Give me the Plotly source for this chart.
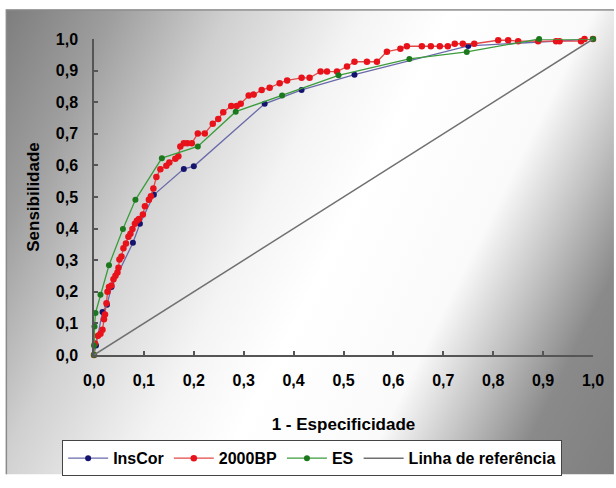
import base64
import plotly.graph_objects as go

# ---------------- data ----------------
inscor_x = [0, 0.004, 0.017, 0.026, 0.035, 0.078, 0.092, 0.12, 0.18, 0.2, 0.342, 0.416, 0.522, 0.75, 1.0]
inscor_y = [0, 0.03, 0.136, 0.159, 0.215, 0.355, 0.415, 0.507, 0.589, 0.597, 0.795, 0.839, 0.887, 0.978, 1.0]

bp_x = [0, 0.002, 0.008, 0.013, 0.017, 0.02, 0.022, 0.025, 0.027, 0.03, 0.035, 0.039, 0.043, 0.047,
        0.049, 0.051, 0.055, 0.059, 0.064, 0.069, 0.073, 0.077, 0.082, 0.086, 0.09, 0.098, 0.102, 0.11,
        0.114, 0.119, 0.125, 0.133, 0.145, 0.151, 0.163, 0.169, 0.173, 0.18, 0.187, 0.196, 0.208, 0.222,
        0.238, 0.249, 0.259, 0.275, 0.286, 0.294, 0.31, 0.32, 0.336, 0.352, 0.372, 0.387, 0.416, 0.432,
        0.454, 0.467, 0.487, 0.507, 0.522, 0.547, 0.567, 0.587, 0.614, 0.627, 0.657, 0.675, 0.693, 0.709,
        0.723, 0.739, 0.762, 0.81, 0.83, 0.85, 0.89, 0.926, 0.933, 0.976, 0.983, 1.0]
bp_y = [0, 0.036, 0.061, 0.067, 0.08, 0.113, 0.128, 0.164, 0.2, 0.215, 0.22, 0.24, 0.251, 0.261,
        0.276, 0.302, 0.312, 0.338, 0.353, 0.374, 0.384, 0.399, 0.415, 0.425, 0.43, 0.445, 0.471, 0.491,
        0.502, 0.527, 0.563, 0.588, 0.599, 0.609, 0.621, 0.629, 0.66, 0.67, 0.67, 0.67, 0.701, 0.701,
        0.732, 0.747, 0.768, 0.788, 0.788, 0.795, 0.821, 0.824, 0.839, 0.846, 0.86, 0.869, 0.877, 0.877,
        0.897, 0.897, 0.897, 0.913, 0.928, 0.928, 0.928, 0.96, 0.969, 0.977, 0.977, 0.977, 0.977, 0.977,
        0.985, 0.985, 0.985, 0.996, 0.996, 0.993, 0.993, 0.993, 0.993, 0.993, 1.0, 1.0]

es_x = [0, 0.0, 0.001, 0.003, 0.013, 0.03, 0.058, 0.083, 0.136, 0.208, 0.284, 0.377, 0.49, 0.632, 0.747, 0.892, 1.0]
es_y = [0, 0.03, 0.09, 0.133, 0.191, 0.284, 0.399, 0.491, 0.623, 0.66, 0.77, 0.821, 0.885, 0.937, 0.959, 1.0, 1.0]

ref_x = [0, 1]
ref_y = [0, 1]

tick_vals = [0, 0.1, 0.2, 0.3, 0.4, 0.5, 0.6, 0.7, 0.8, 0.9, 1.0]
tick_text = ["0,0", "0,1", "0,2", "0,3", "0,4", "0,5", "0,6", "0,7", "0,8", "0,9", "1,0"]

series_names = ["InsCor", "2000BP", "ES", "Linha de referência"]
x_title = "1 - Especificidade"
y_title = "Sensibilidade"

# ---------------- layout geometry ----------------
W, H = 616, 488
ML, MR, MT, MB = 94, 21, 39, 123
PW, PH = W - ML - MR, H - MT - MB

svg = f'''<svg xmlns="http://www.w3.org/2000/svg" width="{W}" height="{H}" viewBox="0 0 {W} {H}">
<defs>
<linearGradient id="g" gradientUnits="userSpaceOnUse" x1="-27" y1="80" x2="693" y2="432">
<stop offset="0" stop-color="#7e7e7e"/>
<stop offset="0.12" stop-color="#9e9e9e"/>
<stop offset="0.25" stop-color="#d0d0d0"/>
<stop offset="0.40" stop-color="#f4f4f4"/>
<stop offset="0.50" stop-color="#ffffff"/>
<stop offset="0.66" stop-color="#fafafa"/>
<stop offset="0.75" stop-color="#c0c0c0"/>
<stop offset="0.83" stop-color="#8a8a8a"/>
<stop offset="1" stop-color="#7a7a7a"/>
</linearGradient>
</defs>
<rect x="0" y="0" width="{W}" height="{H}" fill="#ffffff"/>
<rect x="6" y="9" width="{W+10}" height="{H+10}" fill="url(#g)" stroke="#8a8a8a" stroke-width="1.5"/>
</svg>'''
bg_src = "data:image/svg+xml;base64," + base64.b64encode(svg.encode()).decode()

fig = go.Figure()

fig.add_trace(go.Scatter(
    x=inscor_x, y=inscor_y, name=series_names[0], mode="lines+markers",
    line=dict(color="#6a6aaa", width=1.3),
    marker=dict(color="#14146e", size=6),
    cliponaxis=False))
fig.add_trace(go.Scatter(
    x=bp_x, y=bp_y, name=series_names[1], mode="lines+markers",
    line=dict(color="#e24848", width=1.3),
    marker=dict(color="#e8121a", size=6.5),
    cliponaxis=False))
fig.add_trace(go.Scatter(
    x=es_x, y=es_y, name=series_names[2], mode="lines+markers",
    line=dict(color="#3c9c3c", width=1.3),
    marker=dict(color="#1c781c", size=6),
    cliponaxis=False))
fig.add_trace(go.Scatter(
    x=ref_x, y=ref_y, name=series_names[3], mode="lines",
    line=dict(color="#707070", width=1.5),
    cliponaxis=False))

font_fam = "Liberation Sans, Arial, sans-serif"

fig.update_layout(
    width=W, height=H,
    margin=dict(l=ML, r=MR, t=MT, b=MB, pad=0),
    paper_bgcolor="white",
    plot_bgcolor="rgba(0,0,0,0)",
    font=dict(family=font_fam, size=15, color="black"),
    showlegend=True,
    legend=dict(
        orientation="h",
        x=(313 - ML) / PW, xanchor="center",
        y=-(453 - (MT + PH)) / PH, yanchor="top",
        bgcolor="white", bordercolor="#444444", borderwidth=1,
        font=dict(family=font_fam, size=16, color="black", weight="bold"),
        itemwidth=40, tracegroupgap=0,
    ),
    images=[dict(
        source=bg_src, xref="paper", yref="paper",
        x=-ML / PW, y=1 + MT / PH, sizex=W / PW, sizey=H / PH,
        xanchor="left", yanchor="top", sizing="stretch", layer="below",
    )],
)

fig.update_xaxes(
    range=[0, 1], tickvals=tick_vals, ticktext=tick_text,
    showgrid=False, zeroline=False,
    showline=True, linecolor="#555555", linewidth=1.5,
    ticks="inside", ticklen=4, tickcolor="#555555", tickwidth=1.5,
    tickfont=dict(family=font_fam, size=16, color="black", weight="bold"),
    ticklabelstandoff=10,
    title=dict(text=x_title, font=dict(family=font_fam, size=17, color="black", weight="bold"), standoff=30),
)
fig.update_yaxes(
    range=[0, 1], tickvals=tick_vals, ticktext=tick_text,
    showgrid=False, zeroline=False,
    showline=True, linecolor="#555555", linewidth=1.5,
    ticks="inside", ticklen=4, tickcolor="#555555", tickwidth=1.5,
    tickfont=dict(family=font_fam, size=16, color="black", weight="bold"),
    ticklabelstandoff=11,
    title=dict(text=y_title, font=dict(family=font_fam, size=17, color="black", weight="bold"), standoff=12),
)

fig.write_html("out.html", config={"displayModeBar": False},
               post_script="document.body.style.margin='0';document.body.style.overflow='hidden';")
